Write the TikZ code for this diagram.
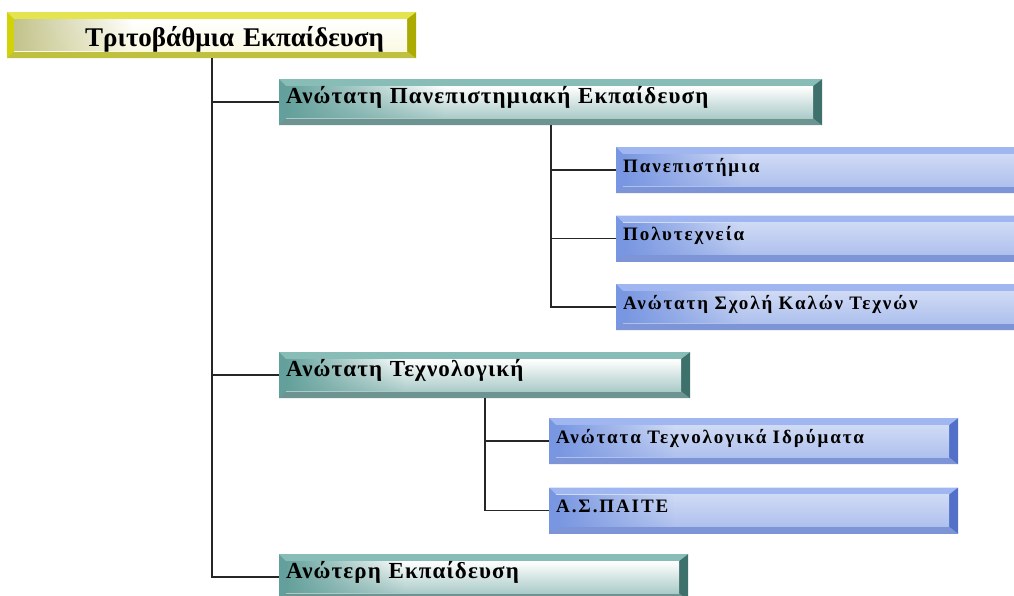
\documentclass[tikz,border=0pt]{standalone}
\usepackage{fontspec}
\setmainfont{Liberation Serif}
\newfontfamily\tealfont[LetterSpace=5]{Liberation Serif}
\newfontfamily\blufont[LetterSpace=10]{Liberation Serif}
\usetikzlibrary{positioning, calc, fadings}
\usepackage{xcolor}
\definecolor{yelframe}{RGB}{210,210,10}
\definecolor{yellight}{RGB}{228,228,80}
\definecolor{yeldark}{RGB}{170,170,0}
\definecolor{yeltint}{RGB}{195,195,140}
\definecolor{tealframe}{RGB}{100,160,155}
\definecolor{teallight}{RGB}{135,188,183}
\definecolor{tealdark}{RGB}{62,112,108}
\definecolor{bluframe}{RGB}{120,150,225}
\definecolor{blulight}{RGB}{160,182,240}
\definecolor{bludark}{RGB}{82,112,200}
% bevelled frame with shaded inside, drawn in the node
\newcommand{\bevelpic}[6]{%
  \coordinate (bnw) at (path picture bounding box.north west);
  \coordinate (bne) at (path picture bounding box.north east);
  \coordinate (bsw) at (path picture bounding box.south west);
  \coordinate (bse) at (path picture bounding box.south east);
  \coordinate (inw) at ([shift={(7pt,-7pt)}]bnw);
  \coordinate (ise) at ([shift={(-9pt,7pt)}]bse);
  \fill[#1] (bnw) -- (bne) -- ([shift={(-9pt,-7pt)}]bne) -- (inw) -- cycle;
  \fill[#2!75!white] (bsw) -- (bse) -- (ise) -- ([shift={(7pt,7pt)}]bsw) -- cycle;
  \fill[#2] (bne) -- (bse) -- (ise) -- ([shift={(-9pt,-7pt)}]bne) -- cycle;
  \shade[top color=#4, middle color=#5, bottom color=#6] (inw) rectangle (ise);
  \coordinate (itm) at ($(inw)!0.3!(inw -| ise)$);
  \fill[#3, path fading=east] (inw) rectangle (itm |- ise);
}
\tikzstyle{box} = [rectangle, anchor=north west,
inner xsep=7pt, inner ysep=0pt,
minimum height=46pt,
align=left]
\tikzstyle{yelbox} = [box, fill=yelframe,
font=\fontsize{27}{30}\selectfont\bfseries,
text height=22pt, text depth=0pt,
path picture={\bevelpic{yellight}{yeldark}{yeltint}{white}{white}{yelframe!12!white}}]
\tikzstyle{tealbox} = [box, fill=tealframe,
font=\tealfont\fontsize{23}{26}\selectfont\bfseries,
text height=12pt, text depth=10pt,
path picture={\bevelpic{teallight}{tealdark}{tealframe}{white}{tealframe!15!white}{tealframe!55!white}}]
\tikzstyle{blubox} = [box, fill=bluframe,
font=\blufont\fontsize{19}{22}\selectfont\bfseries,
text height=12pt, text depth=8pt,
text width=396pt,
path picture={\bevelpic{blulight}{bludark}{bluframe}{bluframe!35!white}{white}{bluframe!60!white}}]
\tikzstyle{link} = [line width=1.6pt, black!85]

\begin{document}
\begin{tikzpicture}[x=1pt, y=-1pt]
	\clip (0,0) rectangle (1014,596);
	\fill[white] (0,0) rectangle (1014,596);

	\node (tri) [yelbox, text width=395pt] at (7,12) {\hspace*{71pt}Τριτοβάθμια Εκπαίδευση};

	\node (ane) [tealbox, text width=529pt] at (279,79) {Ανώτατη Πανεπιστημιακή Εκπαίδευση};
	\node (pan) [blubox] at (616,147) {Πανεπιστήμια};
	\node (pol) [blubox, below=22pt of pan] {Πολυτεχνεία};
	\node (asc) [blubox, below=22pt of pol] {Ανώτατη Σχολή Καλών Τεχνών};

	\node (ate) [tealbox, text width=397pt] at (279,352) {Ανώτατη Τεχνολογική};
	\node (ati) [blubox, text width=395pt] at (549,418) {Ανώτατα Τεχνολογικά Ιδρύματα};
	\node (asp) [blubox, text width=395pt, below=23pt of ati] {Α.Σ.ΠΑΙΤΕ};

	\node (anot) [tealbox, text width=395pt] at (279,554) {Ανώτερη Εκπαίδευση};

	\draw [link] (tri.south) |- (ane.west);
	\draw [link] (tri.south) |- (ate.west);
	\draw [link] (tri.south) |- (anot.west);
	\draw [link] (ane.south) |- (pan.west);
	\draw [link] (ane.south) |- (pol.west);
	\draw [link] (ane.south) |- (asc.west);
	\draw [link] (ate.south) |- (ati.west);
	\draw [link] (ate.south) |- (asp.west);

\end{tikzpicture}
\end{document}
